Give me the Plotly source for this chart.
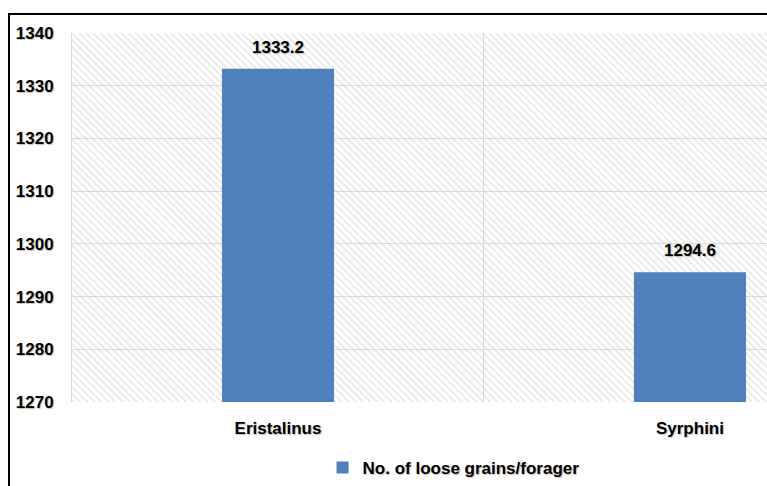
import plotly.graph_objects as go

categories = ["Eristalinus", "Syrphini"]
values = [1333.2, 1294.6]
value_labels = ["1333.2", "1294.6"]
series_name = "No. of loose grains/forager"
y_ticks = [1270, 1280, 1290, 1300, 1310, 1320, 1330, 1340]

BAR = "#4F81BD"
GRID = "#d9d9d9"
FONT = "Liberation Sans"
SHADOW = "1px 1px 1px rgba(0,0,0,0.25)"

fig = go.Figure()

# hatched plot background (decoration) on hidden base axes
fig.add_trace(go.Scatter(
    x=[0, 1, 1, 0, 0], y=[0, 0, 1, 1, 0],
    mode="none", fill="toself", fillcolor="rgba(0,0,0,0)",
    fillpattern=dict(shape="\\", fgcolor="#d4d4d4", bgcolor="rgba(0,0,0,0)",
                     size=5, solidity=0.4),
    showlegend=False, hoverinfo="skip", xaxis="x", yaxis="y",
))

fig.add_trace(go.Bar(
    x=categories, y=values, name=series_name,
    marker=dict(color=BAR, line=dict(width=0)),
    width=0.272, xaxis="x2", yaxis="y2", showlegend=True,
))

for c, v, t in zip(categories, values, value_labels):
    fig.add_annotation(x=c, y=v, xref="x2", yref="y2", text=f"<b>{t}</b>",
                       showarrow=False, yanchor="bottom", yshift=10,
                       font=dict(family=FONT, size=17, color="#000", shadow=SHADOW))

fig.update_layout(
    width=767, height=486,
    margin=dict(l=72, r=0, t=33, b=82),
    paper_bgcolor="white", plot_bgcolor="white",
    font=dict(family=FONT, size=17, color="#000"),
    xaxis=dict(range=[0, 1], visible=False, fixedrange=True),
    yaxis=dict(range=[0, 1], visible=False, fixedrange=True),
    xaxis2=dict(overlaying="x", range=[-0.5, 1.187], type="category",
                tickson="boundaries", showgrid=True, gridcolor=GRID, gridwidth=1,
                ticks="", tickfont=dict(family=FONT, size=17, weight="bold", shadow=SHADOW),
                ticklabelstandoff=14, showline=False, zeroline=False),
    yaxis2=dict(overlaying="y", range=[1270, 1340], tickvals=y_ticks,
                showgrid=True, gridcolor=GRID, gridwidth=1, ticks="",
                tickfont=dict(family=FONT, size=17, weight="bold", shadow=SHADOW),
                ticklabelstandoff=14, showline=True, linecolor=GRID, linewidth=1,
                zeroline=False),
    legend=dict(orientation="h", x=0.549, xanchor="center", y=-0.18, yanchor="middle",
                font=dict(family=FONT, size=17, weight="bold", shadow=SHADOW),
                bgcolor="rgba(0,0,0,0)"),
    bargap=0.728,
    shapes=[dict(type="rect", xref="paper", yref="paper",
                 x0=(9 - 72) / 695, x1=1.05, y0=-0.4, y1=(404 - 14) / 371,
                 line=dict(color="black", width=2), fillcolor="rgba(0,0,0,0)",
                 layer="above")],
)

fig.write_html("out.html")
